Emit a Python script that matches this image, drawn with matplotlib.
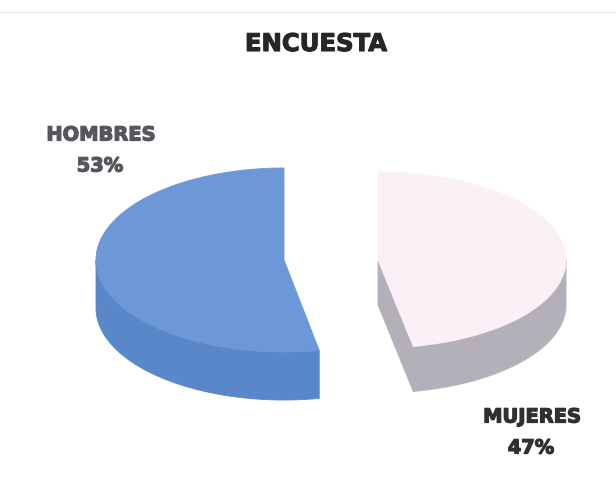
import numpy as np
import matplotlib
matplotlib.use("Agg")
import matplotlib.pyplot as plt
import matplotlib.patheffects as pe
from matplotlib.patches import Polygon

# Survey results
categories = ["HOMBRES", "MUJERES"]
shares = [53, 47]
title = "ENCUESTA"

top_colors = ["#6c97d8", "#fbf0f6"]
wall_colors = ["#5a86ca", "#b4b0ba"]
text_colors = ["#55575c", "#2e3034"]

W, H = 616, 492
fig = plt.figure(figsize=(W / 100, H / 100), dpi=100, facecolor="white")
ax = fig.add_axes([0, 0, 1, 1])
ax.set_xlim(0, W)
ax.set_ylim(H, 0)
ax.axis("off")


def rim(cx, cy, a, b, t0, t1, n=200):
    """Points along the elliptical rim between two angles in degrees."""
    t = np.radians(np.linspace(t0, t1, n))
    return np.column_stack([cx + a * np.cos(t), cy - b * np.sin(t)])


def face(points, color):
    ax.add_patch(Polygon(points, fc=color, ec=color, lw=0.6))


# Angle at which the first slice ends, starting from twelve o'clock
split = 90 + shares[0] / sum(shares) * 360

# Left slice: wall runs from the leftmost point of the rim round to the cut
cx, cy, a, b, depth = 284, 260, 188, 92, 48
top = rim(cx, cy, a, b, 90, split)
wall = rim(cx, cy, a, b, 180, split)
face(np.vstack([wall, wall[::-1] + [0, depth]]), wall_colors[0])
face(np.vstack([[cx, cy], top]), top_colors[0])

# Right slice: the cut face shows on its left, the wall ends at the rightmost point
cx, cy, a, b, depth = 378, 260, 188, 88, 45
top = rim(cx, cy, a, b, split - 360, 90)
wall = rim(cx, cy, a, b, split - 360, 0)
tip = top[0]
face([[cx, cy], tip, tip + [0, depth], [cx, cy + depth]], wall_colors[1])
face(np.vstack([wall, wall[::-1] + [0, depth]]), wall_colors[1])
face(np.vstack([[cx, cy], top]), top_colors[1])

# Title and slice labels
font = dict(family="DejaVu Sans", weight="bold", ha="center", va="center")
ax.text(316, 44, title, fontsize=17.5, color="#24262a",
        path_effects=[pe.withStroke(linewidth=0.8, foreground="#24262a")], **font)

label_pos = [(101, 135), (532, 417)]
value_pos = [(100, 166), (531, 448)]
for name, share, col, lp, vp in zip(categories, shares, text_colors, label_pos, value_pos):
    halo = [pe.withStroke(linewidth=0.9, foreground=col)]
    ax.text(*lp, name, fontsize=14, color=col, path_effects=halo, **font)
    ax.text(*vp, f"{share}%", fontsize=14, color=col, path_effects=halo, **font)

# Faint rule along the top edge
ax.plot([0, W], [12, 12], color="#efefef", lw=1)

fig.savefig("out.png", dpi=100, facecolor="white")
